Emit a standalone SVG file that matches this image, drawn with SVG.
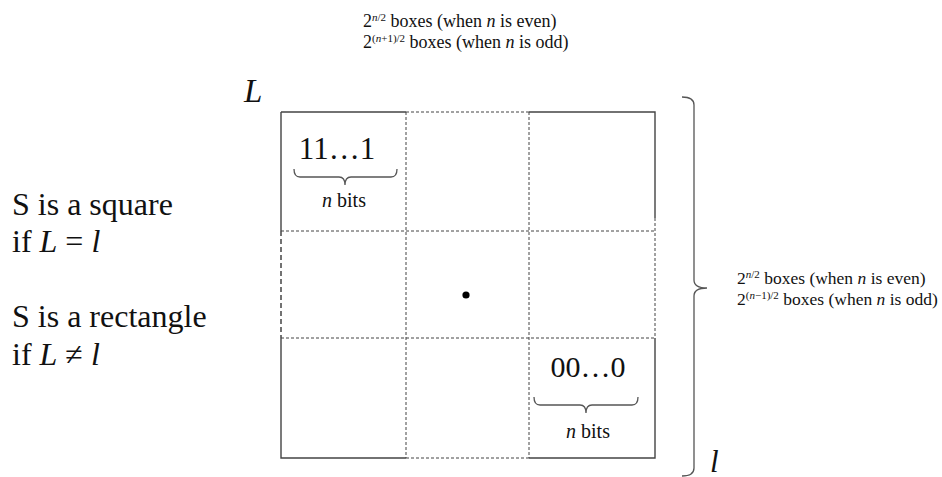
<svg xmlns="http://www.w3.org/2000/svg" width="942" height="477" viewBox="0 0 942 477">
<style>
text{font-family:"Liberation Serif","Times New Roman",serif;fill:#111}
.i{font-style:italic}
.solid{stroke:#444;stroke-width:1.4;fill:none}
.dash{stroke:#444;stroke-width:1;stroke-dasharray:3,2;fill:none}
.dashb{stroke:#444;stroke-width:1.5;stroke-dasharray:5,3;fill:none}
.brace{stroke:#555;stroke-width:1.3;fill:none}
</style>
<rect width="942" height="477" fill="#fff"/>

<g id="top-label">
<text x="363" y="27" font-size="18">2<tspan font-size="11" dy="-6"><tspan class="i">n</tspan>/2</tspan><tspan dy="6"> boxes (when </tspan><tspan class="i">n</tspan> is even)</text>
<text x="363" y="48" font-size="18">2<tspan font-size="11" dy="-6">(<tspan class="i">n</tspan>+1)/2</tspan><tspan dy="6"> boxes (when </tspan><tspan class="i">n</tspan> is odd)</text>
</g>

<g id="right-label">
<text x="737" y="284" font-size="17.5">2<tspan font-size="11" dy="-6"><tspan class="i">n</tspan>/2</tspan><tspan dy="6"> boxes (when </tspan><tspan class="i">n</tspan> is even)</text>
<text x="737" y="305" font-size="17.5">2<tspan font-size="11" dy="-6">(<tspan class="i">n</tspan>−1)/2</tspan><tspan dy="6"> boxes (when </tspan><tspan class="i">n</tspan> is odd)</text>
</g>

<g id="left-text" font-size="32">
<text x="12" y="215">S is a square</text>
<text x="12" y="252">if <tspan class="i">L</tspan> = <tspan class="i">l</tspan></text>
<text x="12" y="327">S is a rectangle</text>
<text x="12" y="365">if <tspan class="i">L</tspan> ≠ <tspan class="i">l</tspan></text>
</g>

<g id="label-L"><text class="i" x="244" y="102" font-size="33">L</text></g>
<g id="label-l"><text class="i" x="710" y="472" font-size="31">l</text></g>

<g id="grid">
<path class="solid" d="M281,112 H406 M529,112 H655 V218 M655,338 V458 H529 M406,458 H281 V338 M281,231 V112"/>
<path class="dash" d="M406,112 H529 M655,218 V338 M406,458 H529"/>
<path class="dashb" d="M281,231 V338"/>
<path class="dash" d="M406,112 V458 M529,112 V458 M281,231 H655 M281,338 H655"/>
<circle cx="466" cy="295" r="3.6" fill="#000"/>
</g>

<g id="cell-top-left">
<text x="337" y="159" font-size="31" text-anchor="middle">11…1</text>
<path class="brace" d="M294,169 Q294,177 300,177 L339,177 Q345,177 345,185 Q345,177 351,177 L391,177 Q397,177 397,169"/>
<text x="344" y="207" font-size="20" text-anchor="middle"><tspan class="i">n</tspan> bits</text>
</g>

<g id="cell-bottom-right">
<text x="588" y="377" font-size="30" text-anchor="middle">00…0</text>
<path class="brace" d="M534,397 Q534,405 540,405 L580,405 Q586,405 586,413 Q586,405 592,405 L632,405 Q638,405 638,397"/>
<text x="588" y="438" font-size="20" text-anchor="middle"><tspan class="i">n</tspan> bits</text>
</g>

<g id="connectors">
<path class="brace" d="M682,97 Q694,97 694,105 L694,280 Q694,288 707,288 Q694,288 694,296 L694,468 Q694,476 682,476"/>
</g>
</svg>
